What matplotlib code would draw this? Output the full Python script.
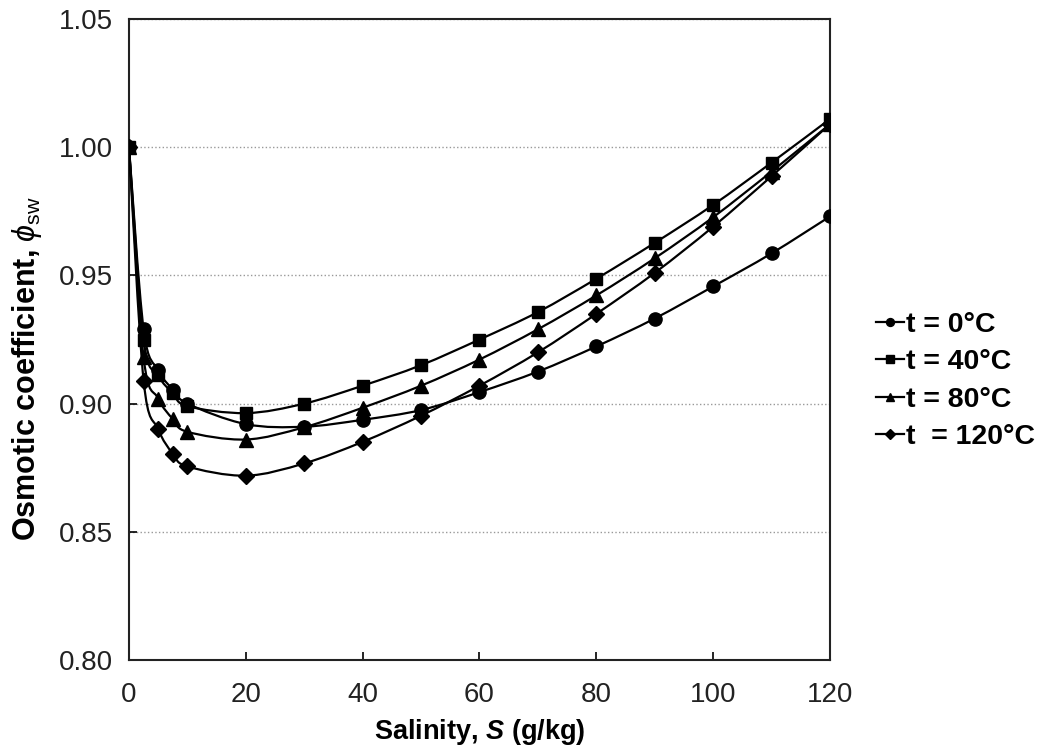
import matplotlib
matplotlib.use('Agg')
import matplotlib.pyplot as plt
from matplotlib.path import Path
from matplotlib.patches import PathPatch
from matplotlib.lines import Line2D

plt.rcParams['font.family'] = ['Liberation Sans', 'DejaVu Sans']
plt.rcParams['mathtext.fontset'] = 'custom'
plt.rcParams['mathtext.rm'] = 'Liberation Sans'
plt.rcParams['mathtext.it'] = 'Liberation Sans:italic'
plt.rcParams['mathtext.bf'] = 'Liberation Sans:bold:italic'

salinity = [0, 2.5, 5, 7.5, 10, 20, 30, 40, 50, 60, 70, 80, 90, 100, 110, 120]
phi_0 = [1.000, 0.929, 0.913, 0.9055, 0.900, 0.892, 0.891, 0.8937, 0.8975,
         0.9045, 0.9125, 0.9223, 0.9332, 0.9457, 0.9586, 0.973]
phi_40 = [1.000, 0.925, 0.911, 0.904, 0.899, 0.8963, 0.900, 0.907, 0.915,
          0.925, 0.9357, 0.9487, 0.9627, 0.9775, 0.994, 1.011]
phi_80 = [1.000, 0.918, 0.902, 0.894, 0.889, 0.886, 0.8908, 0.8984, 0.907,
          0.9172, 0.929, 0.9422, 0.9567, 0.9727, 0.9905, 1.009]
phi_120 = [1.000, 0.909, 0.890, 0.8805, 0.8755, 0.8719, 0.8767, 0.8851, 0.8953,
           0.907, 0.920, 0.935, 0.951, 0.969, 0.9887, 1.009]

series = [phi_0, phi_40, phi_80, phi_120]
labels = ['t = 0°C', 't = 40°C', 't = 80°C', 't  = 120°C']
markers = ['o', 's', '^', 'D']
msizes = [9.5, 9, 10, 8.5]


def smooth_path(x, y):
    # Catmull-Rom style bezier, like a spreadsheet "smoothed line"
    n = len(x)
    verts = [(x[0], y[0])]
    codes = [Path.MOVETO]
    for i in range(n - 1):
        xa, ya = (x[i - 1], y[i - 1]) if i > 0 else (x[i], y[i])
        xb, yb = (x[i + 2], y[i + 2]) if i + 2 < n else (x[i + 1], y[i + 1])
        c1 = (x[i] + (x[i + 1] - xa) / 6, y[i] + (y[i + 1] - ya) / 6)
        c2 = (x[i + 1] - (xb - x[i]) / 6, y[i + 1] - (yb - y[i]) / 6)
        verts += [c1, c2, (x[i + 1], y[i + 1])]
        codes += [Path.CURVE4] * 3
    return Path(verts, codes)


fig = plt.figure(figsize=(10.42, 7.52), dpi=100)
ax = fig.add_axes([0.1238, 0.1223, 0.6727, 0.8524])

handles = []
for vals, lab, m, ms in zip(series, labels, markers, msizes):
    ax.add_patch(PathPatch(smooth_path(salinity, vals), fill=False,
                           edgecolor='black', lw=1.6, zorder=3))
    ax.plot(salinity, vals, ls='none', marker=m, ms=ms, color='black', zorder=4)
    handles.append(Line2D([], [], color='black', lw=1.6, marker=m,
                          ms=ms * 0.6, label=lab))

ax.set_xlim(0, 120)
ax.set_ylim(0.80, 1.05)
ax.set_xticks(range(0, 121, 20))
ax.set_yticks([0.80, 0.85, 0.90, 0.95, 1.00, 1.05])
ax.set_yticklabels(['0.80', '0.85', '0.90', '0.95', '1.00', '1.05'])
ax.tick_params(direction='in', labelsize=20, length=6, width=1.2, colors='black')
ax.tick_params(axis='y', pad=11.5)
ax.tick_params(axis='x', pad=16)
for lab in ax.get_xticklabels() + ax.get_yticklabels():
    lab.set_color('#222222')
ax.yaxis.grid(True, ls=':', color='#999999', lw=1)
for s in ax.spines.values():
    s.set_linewidth(1.5)
    s.set_color('#222222')

ax.set_xlabel(r'Salinity, $\mathbf{S}$ (g/kg)', fontsize=19.5, fontweight='bold', labelpad=6)
ax.set_ylabel(r'Osmotic coefficient, $\phi_{\rm sw}$', fontsize=22, fontweight='bold', labelpad=11)
ax.yaxis.label.set_y(0.455)

fig.legend(handles=handles, loc='center left', bbox_to_anchor=(0.816, 0.4934),
           frameon=False, handlelength=1.0, handletextpad=0.05, labelspacing=0.39,
           prop={'weight': 'bold', 'size': 20.5})

fig.savefig('out.png', dpi=100)
